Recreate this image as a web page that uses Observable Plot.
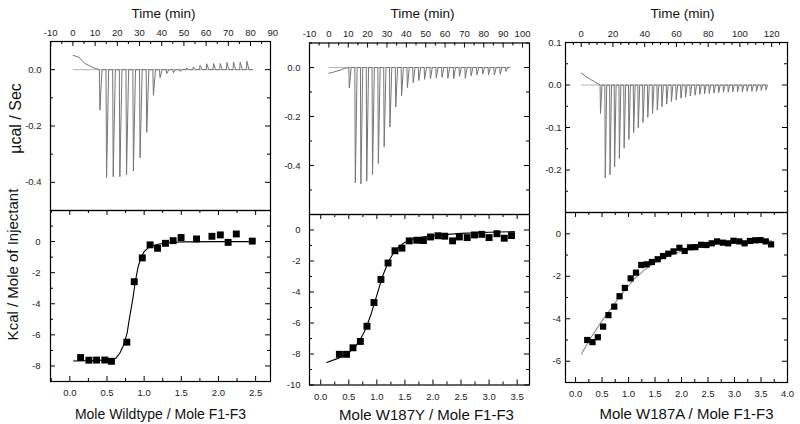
<!DOCTYPE html>
<html>
<head>
<meta charset="utf-8">
<script src="https://cdn.jsdelivr.net/npm/d3@7"></script>
<script src="https://cdn.jsdelivr.net/npm/@observablehq/plot@0.6"></script>
<style>
  html, body { margin: 0; padding: 0; background: #fff; }
  #chart { position: relative; width: 800px; height: 424px; overflow: hidden; background: #fff; }
  #chart svg { position: absolute; left: 0; top: 0; background: transparent !important; max-width: none !important; }
</style>
</head>
<body>
<div id="chart"></div>
<script>
// ---------------- DATA ----------------
// Panel 1 : Wildtype  (raw thermogram)
const wtInjTime = [11.9,14.9,17.9,20.9,23.9,27.0,30.0,33.0,36.0,39.0,42.0,45.0,48.0,51.0,54.0,57.0,60.0,63.1,66.1,69.1,72.1,75.1,78.1];
const wtInjPeak = [-0.144,-0.383,-0.380,-0.380,-0.374,-0.360,-0.313,-0.223,-0.091,-0.029,-0.014,-0.011,-0.006,0.006,0.010,0.015,0.021,0.022,0.022,0.025,0.027,0.027,0.030];
const wtDriftTime = [0.1,2.3,3.3,4.3,5.4,7.0,9.0,11.0,11.9];
const wtDriftValue = [0.051,0.045,0.040,0.030,0.022,0.016,0.008,0.002,0.0];
const wtBaseline = [0.1, 81];
// Panel 1 : Wildtype  (isotherm)
const wtRatio = [0.145,0.257,0.36,0.47,0.56,0.767,0.867,0.975,1.08,1.18,1.287,1.39,1.497,1.705,1.912,2.025,2.13,2.24,2.455];
const wtHeat  = [-7.46,-7.63,-7.62,-7.62,-7.70,-6.47,-2.58,-1.05,-0.21,-0.43,-0.11,0.06,0.26,0.17,0.34,0.43,-0.05,0.49,0.03];
const wtFitRatio = [0.05,0.3,0.55,0.62,0.67,0.72,0.77,0.80,0.85,0.88,0.92,0.96,1.0,1.05,1.1,1.2,1.35,1.5,2.0,2.47];
const wtFitHeat  = [-7.68,-7.66,-7.6,-7.5,-7.2,-6.7,-5.9,-5.0,-3.6,-2.6,-1.6,-1.0,-0.65,-0.42,-0.28,-0.15,-0.06,-0.02,0.0,0.0];

// Panel 2 : W187Y
const yInjTime = [10.3,13.4,16.3,19.3,22.3,25.3,28.3,31.3,34.3,37.3,40.3,43.3,46.2,49.2,52.2,55.2,58.2,61.2,64.2,67.2,70.2,73.2,76.2,79.2,82.2,85.2,88.2,91.2];
const yInjPeak = [-0.084,-0.471,-0.475,-0.464,-0.437,-0.392,-0.324,-0.243,-0.161,-0.115,-0.082,-0.062,-0.053,-0.048,-0.046,-0.043,-0.040,-0.044,-0.046,-0.036,-0.044,-0.034,-0.030,-0.027,-0.030,-0.030,-0.027,-0.016];
const yDriftTime = [0,2,4,6,8,9.5,10.3];
const yDriftValue = [-0.023,-0.020,-0.015,-0.010,-0.004,-0.001,0.0];
const yBaseline = [0, 93.5];
const yRatio = [0.332,0.46,0.575,0.706,0.824,0.949,1.073,1.2,1.323,1.447,1.577,1.71,1.83,1.957,2.09,2.21,2.35,2.47,2.61,2.74,2.87,3.0,3.14,3.27,3.40];
const yHeat  = [-8.02,-8.02,-7.6,-7.19,-6.21,-4.68,-3.19,-2.13,-1.34,-1.17,-0.70,-0.66,-0.68,-0.45,-0.37,-0.40,-0.70,-0.45,-0.49,-0.32,-0.28,-0.49,-0.24,-0.53,-0.36];
const yFitRatio = [0.107,0.33,0.5,0.6,0.7,0.8,0.9,1.0,1.1,1.2,1.3,1.4,1.5,1.6,1.8,2.0,2.5,3.0,3.45];
const yFitHeat  = [-8.55,-8.25,-7.9,-7.6,-7.1,-6.4,-5.4,-4.2,-3.0,-2.1,-1.45,-1.05,-0.8,-0.62,-0.45,-0.35,-0.22,-0.15,-0.10];

// Panel 3 : W187A
const aInjTime = [11.9,14.9,17.9,20.8,23.8,26.8,29.8,32.8,35.7,38.7,41.7,44.7,47.7,50.6,53.6,56.6,59.6,62.6,65.5,68.5,71.5,74.5,77.5,80.4,83.4,86.4,89.4,92.4,95.3,98.3,101.3,104.3,107.3,110.2,113.2,116.2];
const aInjPeak = [-0.067,-0.219,-0.211,-0.193,-0.173,-0.148,-0.128,-0.112,-0.100,-0.088,-0.076,-0.067,-0.059,-0.051,-0.045,-0.039,-0.035,-0.031,-0.029,-0.026,-0.024,-0.022,-0.021,-0.020,-0.019,-0.018,-0.017,-0.017,-0.016,-0.016,-0.016,-0.015,-0.015,-0.015,-0.013,-0.012];
const aDriftTime = [0,3,6,9,11.5,11.9];
const aDriftValue = [0.028,0.020,0.013,0.006,0.001,0.0];
const aBaseline = [0, 117];
const aRatio = [0.22,0.32,0.42,0.52,0.62,0.73,0.83,0.93,1.04,1.14,1.24,1.34,1.44,1.55,1.65,1.75,1.85,1.96,2.06,2.16,2.26,2.37,2.47,2.57,2.67,2.78,2.88,2.98,3.09,3.19,3.29,3.39,3.49,3.59,3.69];
const aHeat  = [-5.0,-5.1,-4.87,-4.37,-3.83,-3.43,-2.94,-2.55,-2.1,-1.83,-1.47,-1.44,-1.33,-1.2,-1.05,-0.94,-0.83,-0.66,-0.81,-0.64,-0.63,-0.52,-0.53,-0.45,-0.36,-0.42,-0.45,-0.33,-0.36,-0.45,-0.34,-0.31,-0.30,-0.36,-0.50];
const aFitRatio = [0.11,0.3,0.5,0.7,0.9,1.1,1.3,1.5,1.7,2.0,2.3,2.6,3.0,3.4,3.7];
const aFitHeat  = [-5.66,-4.85,-4.1,-3.4,-2.75,-2.15,-1.7,-1.35,-1.1,-0.82,-0.64,-0.52,-0.42,-0.36,-0.33];

// Tick label lists
const wtTimeTicks = [-10,0,10,20,30,40,50,60,70,80,90];
const yTimeTicks  = [-10,0,10,20,30,40,50,60,70,80,90,100];
const aTimeTicks  = [0,20,40,60,80,100,120];
const wtPowerTicks = [0.0,-0.2,-0.4];
const yPowerTicks  = [0.0,-0.2,-0.4];
const aPowerTicks  = [0.1,0.0,-0.1,-0.2];
const wtRatioTicks = [0,0.5,1.0,1.5,2.0,2.5];
const yRatioTicks  = [0,0.5,1.0,1.5,2.0,2.5,3.0,3.5];
const aRatioTicks  = [0,0.5,1.0,1.5,2.0,2.5,3.0,3.5,4.0];
const wtHeatTicks = [0,-2,-4,-6,-8];
const yHeatTicks  = [0,-2,-4,-6,-8,-10];
const aHeatTicks  = [0,-2,-4,-6];

// ---------------- HELPERS ----------------
const FONT = "'Liberation Sans', Arial, Helvetica, sans-serif";
const W = 800, H = 424;

function buildTrace(driftT, driftV, injT, injP, end) {
  const pts = driftT.map((t, i) => ({t, v: driftV[i]}));
  injT.forEach((t, i) => {
    pts.push({t, v: 0}, {t: t + 0.25, v: injP[i]}, {t: t + 1.2, v: 0});
  });
  pts.push({t: end, v: 0});
  return pts;
}
const zipXY = (xs, ys) => xs.map((x, i) => ({x, y: ys[i]}));
const inDom = (arr, dom) => arr.filter(v => v >= Math.min(...dom) - 1e-9 && v <= Math.max(...dom) + 1e-9);
const stepTicks = (dom, step) => d3.range(Math.ceil(dom[0] / step - 1e-9) * step, dom[1] + 1e-9, step).map(v => +v.toFixed(6));

function frameTicks(c, sides) {
  const fw = c.R - c.L, fh = c.B - c.T;
  const xMaj = inDom(c.xMajor, c.xDomain);
  const xMin = stepTicks(c.xDomain, c.xStep).filter(v => !xMaj.some(m => Math.abs(m - v) < 1e-6));
  const yMaj = inDom(c.yMajor, c.yDomain);
  const yMin = stepTicks(c.yDomain, c.yStep).filter(v => !yMaj.some(m => Math.abs(m - v) < 1e-6));
  const s = {stroke: "#000", strokeWidth: 1};
  const marks = [];
  for (const [arr, len] of [[xMaj, 5], [xMin, 3]]) {
    if (sides.includes("top")) marks.push(Plot.tickX(arr, {...s, insetBottom: fh - len}));
    if (sides.includes("bottom")) marks.push(Plot.tickX(arr, {...s, insetTop: fh - len}));
  }
  for (const [arr, len] of [[yMaj, 5], [yMin, 3]]) {
    marks.push(Plot.tickY(arr, {...s, insetRight: fw - len}));
    marks.push(Plot.tickY(arr, {...s, insetLeft: fw - len}));
  }
  return marks;
}

const titleStyle = {textAnchor: "middle", lineAnchor: "middle", fill: "#111"};

function makeTop(c) {
  const trace = buildTrace(c.driftT, c.driftV, c.injT, c.injP, c.base[1]);
  const marks = [
    Plot.ruleY([0], {x1: () => c.base[0], x2: () => c.base[1], stroke: "#b5b5b5", strokeWidth: 1}),
    Plot.line(trace, {x: "t", y: "v", stroke: "#767676", strokeWidth: 1}),
    ...frameTicks(c, ["top"]),
    Plot.frame({stroke: "#000", strokeWidth: 1.2}),
    Plot.axisX({ticks: c.xMajor, anchor: "top", tickSize: 0, tickPadding: 6, fontSize: 9.5, fill: "#222", label: null, tickFormat: d => String(d)}),
    Plot.axisY({ticks: c.yMajor, anchor: "left", tickSize: 0, tickPadding: c.yPad, fontSize: 9.5, fill: "#222", label: null, tickFormat: d => d.toFixed(1)}),
    Plot.text(["Time (min)"], {...titleStyle, text: d => d, frameAnchor: "top", dx: c.titleDx, dy: c.titleDy, fontSize: 13.5})
  ];
  if (c.yTitle) marks.push(Plot.text([c.yTitle], {...titleStyle, text: d => d, frameAnchor: "left", rotate: -90, dx: c.yTitleDx, dy: c.yTitleDy, fontSize: c.yTitleSize}));
  return Plot.plot({
    width: W, height: H,
    marginLeft: c.L, marginRight: W - c.R, marginTop: c.T, marginBottom: H - c.B,
    x: {domain: c.xDomain}, y: {domain: c.yDomain},
    style: {fontFamily: FONT, background: "transparent", color: "#000", overflow: "visible"},
    marks
  });
}

function makeBottom(c) {
  const marks = [
    ...frameTicks(c, ["top", "bottom"]),
    Plot.frame({stroke: "#000", strokeWidth: 1.2}),
    Plot.line(zipXY(c.fitX, c.fitY), {x: "x", y: "y", stroke: c.fitColor, strokeWidth: 1.1}),
    Plot.dot(zipXY(c.ptX, c.ptY), {x: "x", y: "y", symbol: "square", r: c.r, fill: "#000"}),
    Plot.axisX({ticks: c.xMajor, anchor: "bottom", tickSize: 0, tickPadding: c.xPad, fontSize: 9.5, fill: "#222", label: null, tickFormat: d => d.toFixed(1)}),
    Plot.axisY({ticks: c.yMajor, anchor: "left", tickSize: 0, tickPadding: c.yPad, fontSize: 9.5, fill: "#222", label: null, tickFormat: d => String(d)}),
    Plot.text([c.xTitle], {...titleStyle, text: d => d, frameAnchor: "bottom", dx: c.xTitleDx, dy: c.xTitleDy, fontSize: c.xTitleSize})
  ];
  if (c.yTitle) marks.push(Plot.text([c.yTitle], {...titleStyle, text: d => d, frameAnchor: "left", rotate: -90, dx: c.yTitleDx, dy: c.yTitleDy, fontSize: c.yTitleSize}));
  return Plot.plot({
    width: W, height: H,
    marginLeft: c.L, marginRight: W - c.R, marginTop: c.T, marginBottom: H - c.B,
    x: {domain: c.xDomain}, y: {domain: c.yDomain},
    style: {fontFamily: FONT, background: "transparent", color: "#000", overflow: "visible"},
    marks
  });
}

// ---------------- PANELS ----------------
const chart = document.getElementById("chart");
const add = svg => chart.appendChild(svg);

// Panel 1
add(makeTop({
  L: 50, R: 270, T: 41, B: 210,
  xDomain: [-10.1, 89], yDomain: [-0.5, 0.1], xStep: 5, yStep: 0.1,
  xMajor: wtTimeTicks, yMajor: wtPowerTicks, yPad: 9,
  injT: wtInjTime, injP: wtInjPeak, driftT: wtDriftTime, driftV: wtDriftValue, base: wtBaseline,
  titleDx: 3, titleDy: -28,
  yTitle: "µcal / Sec", yTitleDx: -35, yTitleDy: -7.5, yTitleSize: 16
}));
add(makeBottom({
  L: 50, R: 270, T: 210, B: 381,
  xDomain: [-0.26, 2.70], yDomain: [-9, 2], xStep: 0.25, yStep: 1,
  xMajor: wtRatioTicks, yMajor: wtHeatTicks, yPad: 10, xPad: 8,
  ptX: wtRatio, ptY: wtHeat, fitX: wtFitRatio, fitY: wtFitHeat, fitColor: "#000", r: 3.9,
  xTitle: "Mole Wildtype / Mole F1-F3", xTitleDx: 0, xTitleDy: 33, xTitleSize: 14,
  yTitle: "Kcal / Mole of Injectant", yTitleDx: -37, yTitleDy: -31.5, yTitleSize: 15
}));

// Panel 2
add(makeTop({
  L: 309, R: 529, T: 42.5, B: 214,
  xDomain: [-10, 103.6], yDomain: [-0.6, 0.1], xStep: 5, yStep: 0.1,
  xMajor: yTimeTicks, yMajor: yPowerTicks, yPad: 9,
  injT: yInjTime, injP: yInjPeak, driftT: yDriftTime, driftV: yDriftValue, base: yBaseline,
  titleDx: 3, titleDy: -29.5
}));
add(makeBottom({
  L: 309, R: 529, T: 214, B: 384.5,
  xDomain: [-0.2, 3.72], yDomain: [-10, 1], xStep: 0.25, yStep: 1,
  xMajor: yRatioTicks, yMajor: yHeatTicks, yPad: 9, xPad: 8,
  ptX: yRatio, ptY: yHeat, fitX: yFitRatio, fitY: yFitHeat, fitColor: "#000", r: 3.9,
  xTitle: "Mole W187Y / Mole F1-F3", xTitleDx: 7, xTitleDy: 30.5, xTitleSize: 15
}));

// Panel 3
add(makeTop({
  L: 565, R: 787, T: 42, B: 212,
  xDomain: [-9.9, 130], yDomain: [-0.3, 0.1], xStep: 5, yStep: 0.05,
  xMajor: aTimeTicks, yMajor: aPowerTicks, yPad: 4,
  injT: aInjTime, injP: aInjPeak, driftT: aDriftTime, driftV: aDriftValue, base: aBaseline,
  titleDx: 6, titleDy: -29
}));
add(makeBottom({
  L: 565, R: 787, T: 212, B: 382,
  xDomain: [-0.19, 4.0], yDomain: [-7, 1], xStep: 0.25, yStep: 1,
  xMajor: aRatioTicks, yMajor: aHeatTicks, yPad: 4.5, xPad: 8,
  ptX: aRatio, ptY: aHeat, fitX: aFitRatio, fitY: aFitHeat, fitColor: "#8a8a8a", r: 3.5,
  xTitle: "Mole W187A / Mole F1-F3", xTitleDx: 10, xTitleDy: 32, xTitleSize: 15
}));
</script>
</body>
</html>
